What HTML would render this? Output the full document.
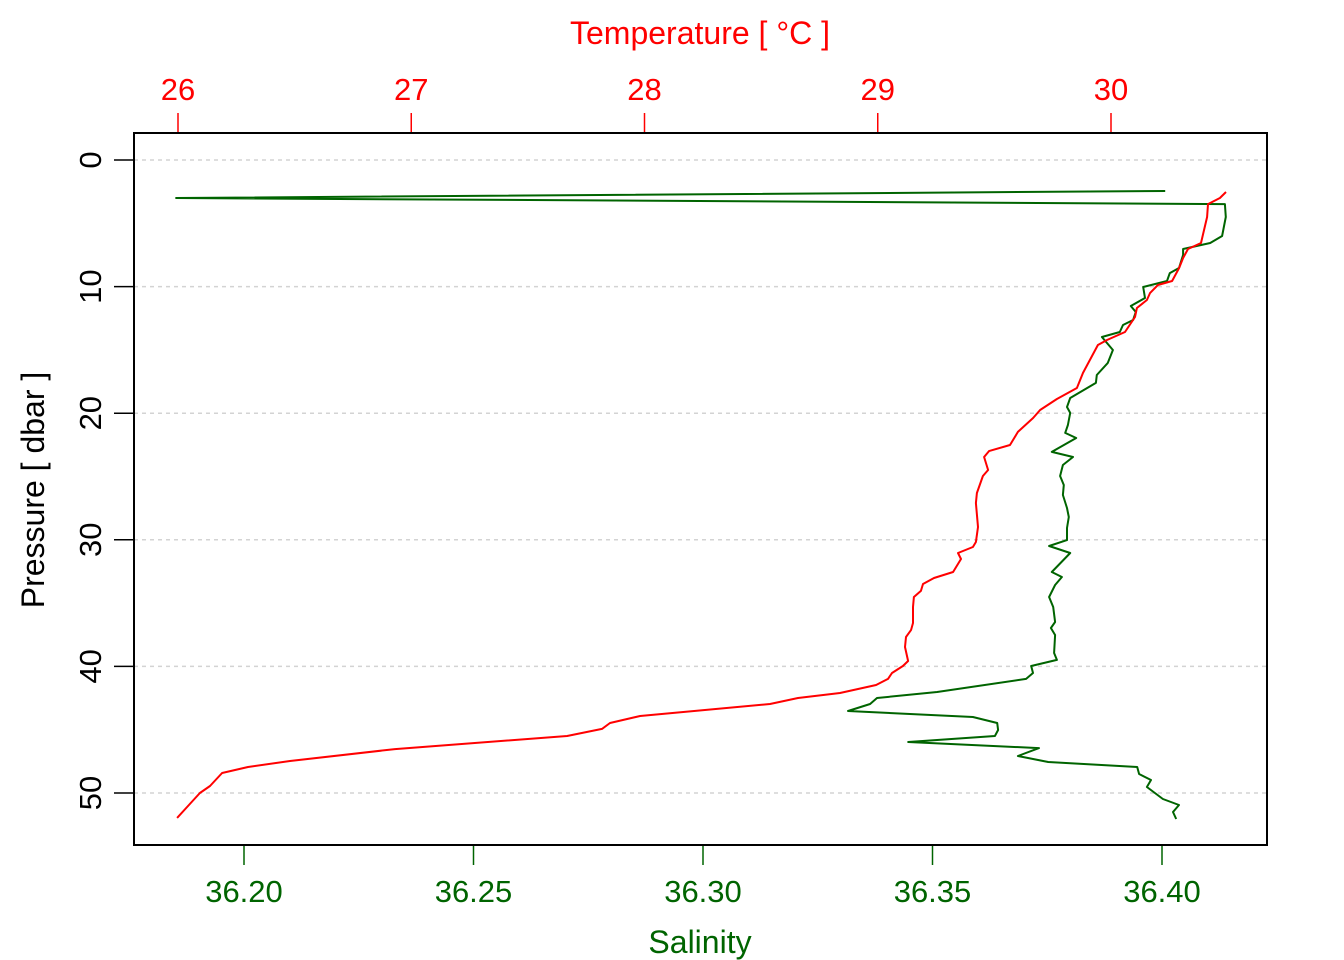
<!DOCTYPE html>
<html><head><meta charset="utf-8"><style>
html,body{margin:0;padding:0;background:#fff;}
svg{display:block;font-family:"Liberation Sans",sans-serif;}
</style></head><body>
<svg id="chart" width="1344" height="960" viewBox="0 0 1344 960" xmlns="http://www.w3.org/2000/svg">
<g id="grid"></g>
<g id="axes"></g>
<path id="sal" fill="none" stroke="#006400" stroke-width="2" stroke-linejoin="round"/>
<path id="tem" fill="none" stroke="#ff0000" stroke-width="2" stroke-linejoin="round"/>
<rect x="134" y="133" width="1133" height="712" fill="none" stroke="#000" stroke-width="2"/>
<text x="700" y="44" fill="#ff0000" font-size="32" text-anchor="middle">Temperature [ °C ]</text>
<text x="700" y="953" fill="#006400" font-size="32" text-anchor="middle">Salinity</text>
<text transform="translate(44,490) rotate(-90)" fill="#000" font-size="32" text-anchor="middle">Pressure [ dbar ]</text>
</svg>
<script>
const salPressure=[2.45,3.0,3.48,4.5,6.0,6.56,7.03,7.5,8.53,8.93,9.56,10.03,10.9,11.53,12.01,12.64,13.03,13.59,13.98,15.01,16.03,16.98,17.61,18.8,19.51,19.98,20.93,21.56,21.96,23.06,23.46,24.09,24.96,25.67,26.46,27.49,28.2,29.07,30.02,30.49,31.04,32.54,32.94,33.57,34.52,35.31,36.49,36.97,37.52,38.94,39.49,39.97,40.52,40.99,42.02,42.5,42.97,43.52,44.0,44.47,45.02,45.5,45.97,46.45,47.08,47.55,47.95,48.5,48.97,49.53,50.47,50.95,51.5,52.05];
const salinity=[36.4007,36.1852,36.4137,36.4139,36.4131,36.4105,36.4046,36.4046,36.4037,36.4017,36.4011,36.3959,36.3963,36.3932,36.3943,36.3937,36.3915,36.3908,36.3869,36.3893,36.3882,36.3858,36.3856,36.38,36.3793,36.38,36.3795,36.3789,36.3813,36.376,36.3806,36.3784,36.3778,36.3786,36.3784,36.3793,36.3797,36.3793,36.3793,36.3754,36.38,36.376,36.3782,36.3767,36.3754,36.3763,36.3767,36.3758,36.3767,36.3765,36.3771,36.3715,36.3719,36.3704,36.351,36.3379,36.3364,36.3316,36.3588,36.3641,36.3643,36.3636,36.3447,36.3732,36.3686,36.3752,36.3946,36.395,36.3976,36.3967,36.4002,36.4037,36.4024,36.4031];
const temPressure=[2.53,3.0,3.48,4.5,5.92,6.56,7.03,7.74,8.53,9.56,9.87,10.51,11.06,11.69,12.4,13.59,14.22,14.61,16.82,18.01,18.88,19.75,20.38,21.48,22.51,22.99,23.46,24.49,24.96,26.3,27.09,28.99,30.17,30.57,31.04,31.52,32.54,33.02,33.49,34.04,34.52,35.31,36.57,37.12,37.68,38.47,39.57,39.97,40.52,40.99,41.47,42.1,42.5,42.97,43.92,44.47,44.94,45.5,46.53,47.47,47.95,48.42,49.45,50.0,51.03,51.97];
const temperature=[30.493,30.467,30.416,30.412,30.394,30.386,30.33,30.309,30.292,30.262,30.201,30.167,30.154,30.111,30.103,30.06,29.983,29.944,29.88,29.854,29.768,29.696,29.666,29.601,29.567,29.477,29.456,29.473,29.451,29.425,29.421,29.43,29.421,29.408,29.344,29.357,29.323,29.241,29.194,29.185,29.155,29.151,29.151,29.143,29.121,29.117,29.13,29.108,29.061,29.044,28.993,28.838,28.658,28.538,27.981,27.852,27.818,27.668,26.93,26.48,26.3,26.189,26.137,26.094,26.043,25.996];
const pressureTicks=[0,10,20,30,40,50];
const salTicks=[36.20,36.25,36.30,36.35,36.40];
const temTicks=[26,27,28,29,30];

const yP=p=>160+p*(793-160)/50;
const xS=s=>244+(s-36.2)*(1162-244)/0.2;
const xT=t=>178+(t-26)*(1111-178)/4;
const NS="http://www.w3.org/2000/svg";
function mk(tag,parent,attrs){const e=document.createElementNS(NS,tag);for(const k in attrs)e.setAttribute(k,attrs[k]);parent.appendChild(e);return e;}
const grid=document.getElementById('grid'),axes=document.getElementById('axes');
pressureTicks.forEach(p=>{
  const g=mk('line',grid,{x1:134,x2:1267,y1:yP(p),y2:yP(p),stroke:'#d3d3d3','stroke-width':1.5,'stroke-dasharray':'4,4'});
  
  
  const t=mk('line',axes,{x1:114,x2:134,y1:yP(p),y2:yP(p),stroke:'#000','stroke-width':1.5});
  
  
  const l=mk('text',axes,{transform:`translate(101,${yP(p)}) rotate(-90)`,'font-size':31,'text-anchor':'middle',fill:'#000'});
  l.textContent=String(p);
  
  
});
salTicks.forEach(s=>{
  const t=mk('line',axes,{x1:xS(s),x2:xS(s),y1:845,y2:865,stroke:'#006400','stroke-width':1.5});
  
  
  const l=mk('text',axes,{x:xS(s),y:902,'font-size':31,'text-anchor':'middle',fill:'#006400'});
  l.textContent=s.toFixed(2);
  
  
});
temTicks.forEach(v=>{
  const t=mk('line',axes,{x1:xT(v),x2:xT(v),y1:113,y2:133,stroke:'#ff0000','stroke-width':1.5});
  
  
  const l=mk('text',axes,{x:xT(v),y:100,'font-size':31,'text-anchor':'middle',fill:'#ff0000'});
  l.textContent=String(v);
  
  
});
document.getElementById('sal').setAttribute('d',salinity.map((s,i)=>(i?'L':'M')+xS(s).toFixed(1)+','+yP(salPressure[i]).toFixed(1)).join(''));
document.getElementById('tem').setAttribute('d',temperature.map((t,i)=>(i?'L':'M')+xT(t).toFixed(1)+','+yP(temPressure[i]).toFixed(1)).join(''));
</script>
</body></html>
